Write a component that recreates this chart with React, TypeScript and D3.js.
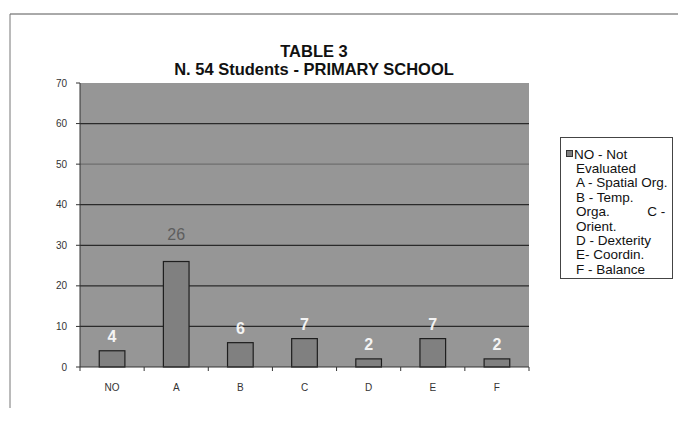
import React from "react";
import * as d3 from "d3";

// Category codes and counts
const categories = ["NO", "A", "B", "C", "D", "E", "F"];
const counts = [4, 26, 6, 7, 2, 7, 2];
const yTicks = [0, 10, 20, 30, 40, 50, 60, 70];
const titleLines = ["TABLE 3", "N. 54 Students - PRIMARY SCHOOL"];
const legendLines = [
  "NO - Not",
  "Evaluated",
  "A - Spatial Org.",
  "B - Temp.",
  "Orga.          C -",
  "Orient.",
  "D - Dexterity",
  "E- Coordin.",
  "F - Balance",
];

const W = 678;
const H = 422;
const plot = { left: 80, right: 529, top: 83, bottom: 367 };

export default function App() {
  const x = d3
    .scaleBand<string>()
    .domain(categories)
    .range([plot.left, plot.right])
    .paddingInner(0.6)
    .paddingOuter(0.3);
  const y = d3.scaleLinear().domain([0, 70]).range([plot.bottom, plot.top]);
  const step = x.step();
  const font = "'Liberation Sans', Arial, sans-serif";

  return (
    <svg
      width={W}
      height={H}
      style={{ position: "absolute", left: 0, top: 0, display: "block", background: "#fff" }}
      fontFamily={font}
    >
      {/* outer frame edges */}
      <line x1={10} y1={14} x2={W} y2={14} stroke="#555" strokeWidth={1} />
      <line x1={10} y1={14} x2={10} y2={408} stroke="#777" strokeWidth={1} />

      {/* title */}
      {titleLines.map((t, i) => (
        <text
          key={t}
          x={314}
          y={57 + i * 18}
          textAnchor="middle"
          fontSize={16.5}
          fontWeight="bold"
          fill="#111"
        >
          {t}
        </text>
      ))}

      {/* plot area */}
      <rect
        x={plot.left}
        y={plot.top}
        width={plot.right - plot.left}
        height={plot.bottom - plot.top}
        fill="#969696"
      />

      {/* gridlines */}
      {yTicks
        .filter((t) => t > 0 && t < 70)
        .map((t) => (
          <line
            key={t}
            x1={plot.left}
            x2={plot.right}
            y1={y(t)}
            y2={y(t)}
            stroke={t === 50 ? "#6e6e6e" : "#2a2a2a"}
            strokeWidth={1.2}
          />
        ))}

      {/* bars */}
      {categories.map((c, i) => (
        <rect
          key={c}
          x={x(c)}
          y={y(counts[i])}
          width={x.bandwidth()}
          height={plot.bottom - y(counts[i])}
          fill="#808080"
          stroke="#1e1e1e"
          strokeWidth={1.2}
        />
      ))}

      {/* value labels */}
      {categories.map((c, i) => {
        const big = counts[i] > 20;
        return (
          <text
            key={c}
            x={(x(c) as number) + x.bandwidth() / 2}
            y={y(counts[i]) - (big ? 22 : 9)}
            textAnchor="middle"
            fontSize={16}
            fontWeight={big ? "normal" : "bold"}
            fill={big ? "#5e5e5e" : "#f4f4f4"}
          >
            {counts[i]}
          </text>
        );
      })}

      {/* y axis */}
      <line x1={plot.left} x2={plot.left} y1={plot.top} y2={plot.bottom} stroke="#333" />
      {yTicks.map((t) => (
        <g key={t}>
          <line x1={plot.left - 4} x2={plot.left} y1={y(t)} y2={y(t)} stroke="#333" />
          <text x={plot.left - 13} y={y(t) + 3.5} textAnchor="end" fontSize={10} fill="#333">
            {t}
          </text>
        </g>
      ))}

      {/* x axis */}
      <line x1={plot.left} x2={plot.right} y1={plot.bottom} y2={plot.bottom} stroke="#333" />
      {d3.range(categories.length + 1).map((k) => (
        <line
          key={k}
          x1={plot.left + k * step}
          x2={plot.left + k * step}
          y1={plot.bottom}
          y2={plot.bottom + 4}
          stroke="#333"
        />
      ))}
      {categories.map((c) => (
        <text
          key={c}
          x={(x(c) as number) + x.bandwidth() / 2}
          y={391}
          textAnchor="middle"
          fontSize={10}
          fill="#333"
        >
          {c}
        </text>
      ))}

      {/* legend */}
      <rect x={560.5} y={137.5} width={112} height={141} fill="#fff" stroke="#444" />
      <rect x={566.5} y={150.5} width={6} height={6} fill="#808080" stroke="#333" />
      {legendLines.map((l, i) => (
        <text
          key={i}
          x={i === 0 ? 574 : 576}
          y={158.5 + i * 14.4}
          fontSize={13.5}
          fill="#111"
          style={{ whiteSpace: "pre" }}
        >
          {l}
        </text>
      ))}
    </svg>
  );
}
